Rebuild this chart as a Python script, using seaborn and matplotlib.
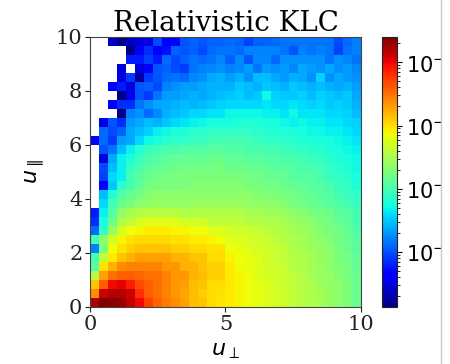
import numpy as np
import pandas as pd
import matplotlib
matplotlib.use("Agg")
import matplotlib.pyplot as plt
from matplotlib.colors import LogNorm
from matplotlib.patches import Rectangle
from matplotlib.lines import Line2D
import seaborn as sns

nan = np.nan

# log10 of the normalised 2D histogram density, 30x30 bins over u_perp, u_par in [0, 10]
# each row: u_perp bins 0..29 (left -> right); rows named by u_par bin (29 = top)
row29 = [nan, nan, -4.57, -4.85, -4.61, -4.53, -4.49, -4.02, -4.40, -4.36, -3.97, -3.93, -3.97, -3.93, -3.93, -3.89, -3.93, -4.06, -3.93, -3.93, -3.89, -3.85, -3.85, -3.85, -3.85, -3.85, -3.85, -4.02, -3.89, -3.80]
row28 = [nan, nan, nan, nan, -4.85, -4.40, -4.14, -4.40, -4.27, -3.93, -3.97, -3.93, -4.02, -3.89, -3.85, -3.85, -3.89, -3.80, -3.80, -3.80, -3.80, -3.85, -3.97, -3.80, -3.85, -3.80, -3.85, -4.06, -3.85, -3.80]
row27 = [nan, nan, nan, nan, -4.23, -4.23, -4.06, -4.23, -3.89, -4.02, -3.93, -3.85, -3.89, -3.85, -3.76, -3.93, -3.76, -3.97, -3.76, -3.76, -3.89, -3.72, -3.72, -3.72, -3.72, -3.72, -3.85, -3.72, -3.76, -3.85]
row26 = [nan, nan, nan, -4.53, nan, -4.49, -4.40, -3.97, -3.93, -4.02, -4.10, -3.85, -3.80, -3.76, -3.72, -3.80, -3.76, -3.67, -3.85, -3.67, -3.72, -3.67, -3.76, -3.63, -3.67, -3.72, -3.63, -3.72, -3.67, -3.76]
row25 = [nan, nan, nan, -4.53, -4.10, -4.74, -4.10, -3.97, -3.89, -3.85, -3.89, -3.76, -3.72, -3.63, -3.59, -3.67, -3.59, -3.72, -3.55, -3.55, -3.63, -3.67, -3.59, -3.63, -3.72, -3.46, -3.72, -3.63, -3.67, -3.72]
row24 = [nan, nan, -4.40, -4.23, -4.49, -3.97, -3.93, -4.02, -3.80, -3.72, -3.67, -3.67, -3.63, -3.59, -3.59, -3.59, -3.50, -3.55, -3.59, -3.50, -3.55, -3.59, -3.50, -3.55, -3.59, -3.55, -3.59, -3.63, -3.59, -3.67]
row23 = [nan, nan, nan, -4.85, -4.44, -3.97, -4.10, -3.85, -3.67, -3.67, -3.63, -3.59, -3.63, -3.59, -3.55, -3.50, -3.46, -3.55, -3.50, -3.29, -3.46, -3.50, -3.50, -3.46, -3.55, -3.46, -3.50, -3.55, -3.50, -3.63]
row22 = [nan, nan, -4.40, -4.14, -4.14, -3.85, -3.72, -3.63, -3.63, -3.59, -3.55, -3.59, -3.55, -3.50, -3.46, -3.42, -3.42, -3.42, -3.42, -3.38, -3.42, -3.42, -3.38, -3.42, -3.46, -3.42, -3.50, -3.46, -3.50, -3.59]
row21 = [nan, nan, nan, -4.85, -3.80, -3.72, -3.89, -3.76, -3.59, -3.55, -3.50, -3.42, -3.42, -3.38, -3.38, -3.29, -3.29, -3.29, -3.29, -3.33, -3.33, -3.38, -3.29, -3.38, -3.38, -3.38, -3.42, -3.42, -3.46, -3.55]
row20 = [nan, -4.49, -3.97, -4.14, -3.67, -3.63, -3.55, -3.59, -3.50, -3.42, -3.38, -3.33, -3.29, -3.25, -3.25, -3.25, -3.21, -3.21, -3.21, -3.25, -3.25, -3.29, -3.33, -3.29, -3.33, -3.33, -3.38, -3.38, -3.42, -3.46]
row19 = [nan, -3.89, -4.02, -3.93, -3.63, -3.55, -3.46, -3.33, -3.29, -3.25, -3.21, -3.16, -3.16, -3.12, -3.12, -3.12, -3.12, -3.12, -3.16, -3.16, -3.21, -3.21, -3.25, -3.25, -3.29, -3.29, -3.33, -3.33, -3.38, -3.42]
row18 = [-4.31, -3.89, -4.10, -3.67, -3.63, -3.42, -3.29, -3.25, -3.16, -3.12, -3.12, -3.08, -3.08, -3.03, -3.03, -2.99, -3.03, -3.03, -3.08, -3.12, -3.12, -3.16, -3.16, -3.21, -3.21, -3.25, -3.25, -3.29, -3.33, -3.38]
row17 = [nan, -3.97, -3.85, -3.55, -3.33, -3.16, -3.08, -3.03, -2.99, -2.99, -2.95, -2.95, -2.95, -2.91, -2.91, -2.95, -2.95, -2.99, -2.99, -3.03, -3.03, -3.08, -3.08, -3.12, -3.16, -3.16, -3.21, -3.25, -3.29, -3.33]
row16 = [nan, -4.53, -3.63, -3.33, -3.21, -3.08, -2.99, -2.95, -2.91, -2.86, -2.86, -2.86, -2.86, -2.82, -2.82, -2.86, -2.86, -2.91, -2.91, -2.95, -2.95, -2.99, -2.99, -3.03, -3.08, -3.08, -3.16, -3.21, -3.25, -3.29]
row15 = [nan, -4.02, -3.55, -3.33, -3.12, -2.99, -2.91, -2.86, -2.82, -2.82, -2.78, -2.78, -2.78, -2.78, -2.74, -2.82, -2.82, -2.82, -2.86, -2.86, -2.91, -2.91, -2.95, -2.99, -2.99, -3.03, -3.12, -3.16, -3.21, -3.29]
row14 = [nan, -4.06, -3.42, -3.33, -3.03, -2.91, -2.82, -2.78, -2.78, -2.74, -2.74, -2.74, -2.74, -2.74, -2.74, -2.74, -2.74, -2.78, -2.78, -2.82, -2.82, -2.86, -2.91, -2.95, -2.95, -2.99, -3.08, -3.12, -3.16, -3.25]
row13 = [nan, -4.40, -3.50, -3.16, -3.03, -2.86, -2.78, -2.74, -2.74, -2.74, -2.74, -2.69, -2.69, -2.69, -2.69, -2.69, -2.69, -2.74, -2.74, -2.78, -2.78, -2.82, -2.86, -2.86, -2.91, -2.95, -2.99, -3.08, -3.12, -3.21]
row12 = [nan, -3.55, -3.21, -2.95, -2.86, -2.78, -2.69, -2.65, -2.65, -2.65, -2.65, -2.65, -2.65, -2.65, -2.65, -2.65, -2.65, -2.65, -2.69, -2.69, -2.74, -2.74, -2.78, -2.82, -2.86, -2.91, -2.95, -3.03, -3.08, -3.12]
row11 = [nan, -3.42, -3.03, -2.82, -2.74, -2.65, -2.61, -2.61, -2.61, -2.61, -2.61, -2.57, -2.57, -2.57, -2.57, -2.57, -2.57, -2.61, -2.61, -2.65, -2.65, -2.69, -2.74, -2.78, -2.82, -2.86, -2.91, -2.95, -3.03, -3.08]
row10 = [-4.23, -3.33, -2.95, -2.65, -2.52, -2.48, -2.44, -2.44, -2.44, -2.44, -2.48, -2.48, -2.48, -2.48, -2.48, -2.48, -2.48, -2.52, -2.52, -2.57, -2.57, -2.61, -2.65, -2.69, -2.74, -2.78, -2.82, -2.91, -2.95, -3.03]
row09 = [-4.14, -3.25, -2.82, -2.48, -2.39, -2.27, -2.22, -2.22, -2.22, -2.22, -2.31, -2.31, -2.31, -2.39, -2.39, -2.39, -2.39, -2.44, -2.44, -2.48, -2.48, -2.52, -2.57, -2.61, -2.65, -2.74, -2.78, -2.82, -2.91, -2.99]
row08 = [-3.89, -3.12, -2.61, -2.27, -2.14, -2.10, -2.05, -2.05, -2.05, -2.10, -2.10, -2.14, -2.14, -2.22, -2.22, -2.27, -2.31, -2.31, -2.35, -2.39, -2.44, -2.48, -2.52, -2.57, -2.61, -2.69, -2.74, -2.78, -2.86, -2.95]
row07 = [-3.03, -2.65, -2.31, -2.10, -2.01, -1.97, -1.97, -1.97, -1.97, -2.01, -2.01, -2.05, -2.05, -2.10, -2.14, -2.22, -2.22, -2.27, -2.31, -2.35, -2.39, -2.44, -2.48, -2.52, -2.57, -2.65, -2.69, -2.78, -2.82, -2.91]
row06 = [-3.80, -2.74, -2.14, -2.01, -1.92, -1.88, -1.88, -1.88, -1.88, -1.92, -1.92, -1.97, -1.97, -2.01, -2.01, -2.14, -2.18, -2.22, -2.27, -2.31, -2.35, -2.39, -2.48, -2.52, -2.57, -2.61, -2.65, -2.74, -2.82, -2.91]
row05 = [-3.03, -2.39, -2.05, -1.88, -1.80, -1.71, -1.71, -1.71, -1.71, -1.80, -1.80, -1.88, -1.88, -1.97, -1.97, -2.10, -2.14, -2.18, -2.22, -2.31, -2.35, -2.39, -2.44, -2.48, -2.52, -2.61, -2.65, -2.74, -2.78, -2.86]
row04 = [-2.95, -2.01, -1.80, -1.62, -1.58, -1.58, -1.58, -1.58, -1.67, -1.67, -1.80, -1.80, -1.88, -1.92, -1.92, -2.05, -2.14, -2.18, -2.22, -2.27, -2.31, -2.35, -2.44, -2.48, -2.52, -2.57, -2.65, -2.69, -2.78, -2.86]
row03 = [-2.44, -1.71, -1.50, -1.41, -1.41, -1.45, -1.50, -1.50, -1.58, -1.67, -1.67, -1.80, -1.84, -1.92, -1.92, -2.05, -2.10, -2.14, -2.22, -2.27, -2.31, -2.35, -2.39, -2.44, -2.52, -2.57, -2.61, -2.69, -2.74, -2.82]
row02 = [-1.88, -1.41, -1.03, -0.98, -1.11, -1.33, -1.41, -1.50, -1.58, -1.67, -1.71, -1.84, -1.88, -1.97, -1.97, -2.05, -2.10, -2.14, -2.18, -2.22, -2.27, -2.35, -2.39, -2.44, -2.48, -2.57, -2.61, -2.65, -2.74, -2.82]
row01 = [-1.62, -0.90, -0.81, -0.81, -0.90, -1.20, -1.41, -1.50, -1.58, -1.67, -1.75, -1.84, -1.92, -1.97, -2.01, -2.05, -2.10, -2.14, -2.18, -2.22, -2.27, -2.31, -2.39, -2.44, -2.48, -2.52, -2.61, -2.65, -2.74, -2.82]
row00 = [-0.77, -0.60, -0.64, -0.69, -0.86, -1.03, -1.28, -1.45, -1.54, -1.62, -1.71, -1.84, -1.88, -1.97, -2.01, -2.05, -2.10, -2.14, -2.18, -2.22, -2.27, -2.31, -2.39, -2.44, -2.48, -2.52, -2.61, -2.65, -2.74, -2.82]

rows_top_to_bottom = [row29, row28, row27, row26, row25, row24, row23, row22, row21, row20,
                      row19, row18, row17, row16, row15, row14, row13, row12, row11, row10,
                      row09, row08, row07, row06, row05, row04, row03, row02, row01, row00]

x_ticks_values = [0, 5, 10]
y_ticks_values = [0, 2, 4, 6, 8, 10]
axis_max = 10
cbar_log_min = -4.87
cbar_log_max = -0.60
title_text = "Relativistic KLC"
xlabel_text = r"$u_\perp$"
ylabel_text = r"$u_\parallel$"

plt.rcParams['font.family'] = ['DejaVu Serif']
plt.rcParams['mathtext.fontset'] = 'dejavusans'

fig = plt.figure(figsize=(4.5, 3.64), dpi=100)
ax = fig.add_axes([0.2, 0.1566, 0.6022, 0.7418])
cax = fig.add_axes([0.849, 0.1566, 0.0322, 0.7418])

grid = np.array(rows_top_to_bottom, dtype=float)
df = pd.DataFrame(10.0 ** grid)
nbins = grid.shape[1]
norm = LogNorm(vmin=10 ** cbar_log_min, vmax=10 ** cbar_log_max)

sns.heatmap(df, ax=ax, cbar_ax=cax, cmap='jet', norm=norm, cbar=True,
            xticklabels=False, yticklabels=False)

scale = nbins / axis_max
ax.set_xticks([v * scale for v in x_ticks_values])
ax.set_xticklabels([str(v) for v in x_ticks_values], fontsize=15, rotation=0)
ax.set_yticks([nbins - v * scale for v in y_ticks_values])
ax.set_yticklabels([str(v) for v in y_ticks_values], fontsize=15, rotation=0)
ax.tick_params(length=3.5, width=0.8, colors='#222222', pad=2)
for s in ax.spines.values():
    s.set_visible(True)
    s.set_color('#444444')
    s.set_linewidth(0.8)
ax.set_xlabel(xlabel_text, fontsize=16, labelpad=4)
ax.set_ylabel(ylabel_text, fontsize=16, labelpad=6)
ax.set_title(title_text, fontsize=20, pad=4)

cb = ax.collections[0].colorbar
cb.outline.set_linewidth(0.8)
cb.outline.set_edgecolor('#222222')
cax.tick_params(labelsize=15)
for t in cax.get_yticklabels():
    t.set_fontfamily('DejaVu Sans')

# right-hand crop edge of the original figure
fig.add_artist(Rectangle((441 / 450, 0), 9 / 450, 1, transform=fig.transFigure,
                         facecolor='white', edgecolor='none', zorder=10))
fig.add_artist(Line2D([441 / 450, 441 / 450], [0, 1], transform=fig.transFigure,
                      color='#c8c8c8', lw=1, zorder=11))

fig.savefig('out.png', dpi=100)
